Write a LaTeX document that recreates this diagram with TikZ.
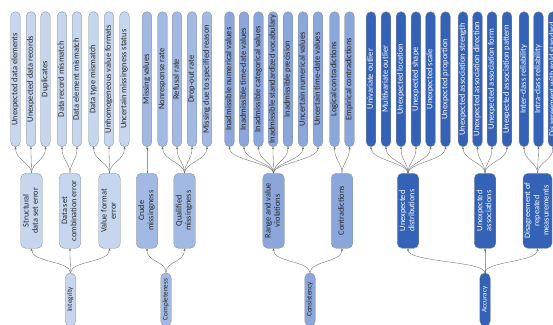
\documentclass[tikz,border=0pt]{standalone}
\usepackage{fontspec}
\usepackage{graphicx}
\setmainfont{Carlito}
\usetikzlibrary{arrows.meta}
\definecolor{gA}{HTML}{C6D6EF}
\definecolor{gB}{HTML}{A2B9E3}
\definecolor{gC}{HTML}{8AA6DA}
\definecolor{gD}{HTML}{3462B6}
\definecolor{edgecol}{HTML}{8E8E8E}
\definecolor{conncol}{HTML}{6A6A6A}
\newcommand{\rlab}[1]{\rotatebox{90}{\begin{tabular}{@{}c@{}}#1\end{tabular}}}
\begin{document}
\begin{tikzpicture}[x=1pt,y=1pt,
  leaf/.style={rounded corners=4.7pt, minimum height=135pt, minimum width=9.6pt, inner sep=0pt, draw=edgecol, line width=0.35pt, font=\fontsize{8.5}{9}\selectfont},
  midbox/.style={rounded corners=5pt, minimum height=75pt, minimum width=21.5pt, inner sep=0pt, draw=edgecol, line width=0.35pt, font=\fontsize{8.3}{9.2}\selectfont},
  rootbox/.style={rounded corners=5pt, minimum height=53pt, minimum width=10.5pt, inner sep=0pt, draw=edgecol, line width=0.35pt, font=\fontsize{7.2}{8}\selectfont},
  ga/.style={fill=gA, text=black!85},
  gb/.style={fill=gB, text=black!85},
  gc/.style={fill=gC, text=black!85},
  gd/.style={fill=gD, text=white},
  link/.style={draw=conncol, line width=0.35pt, -{Stealth[length=2.4pt,width=2.2pt]}},
]
\path[use as bounding box, clip] (0,0) rectangle (553,324);
\def\LY{244.8}
\def\MY{113.2}
\def\RY{24.5}

% ---------- Integrity ----------
\node[leaf,ga] (a1) at (15.5,\LY) {\rlab{Unexpected data elements}};
\node[leaf,ga] (a2) at (31,\LY) {\rlab{Unexpected data records}};
\node[leaf,ga] (a3) at (45.5,\LY) {\rlab{Duplicates}};
\node[leaf,ga] (a4) at (62,\LY) {\rlab{Data record mismatch}};
\node[leaf,ga] (a5) at (77,\LY) {\rlab{Data element mismatch}};
\node[leaf,ga] (a6) at (93.5,\LY) {\rlab{Data type mismatch}};
\node[leaf,ga] (a7) at (109,\LY) {\rlab{Unhomogeneous value formats}};
\node[leaf,ga] (a8) at (124.5,\LY) {\rlab{Uncertain missingness status}};
\node[midbox,ga] (am1) at (31.5,\MY) {\rlab{Structural\\data set error}};
\node[midbox,ga] (am2) at (70,\MY) {\rlab{Data set\\combination error}};
\node[midbox,ga] (am3) at (109.5,\MY) {\rlab{Value format\\error}};
\node[rootbox,ga] (ar) at (70.5,\RY) {\rlab{Integrity}};

% ---------- Completeness ----------
\node[leaf,gb] (b1) at (147,\LY) {\rlab{Missing values}};
\node[leaf,gb] (b2) at (162.5,\LY) {\rlab{Nonresponse rate}};
\node[leaf,gb] (b3) at (177,\LY) {\rlab{Refusal rate}};
\node[leaf,gb] (b4) at (192,\LY) {\rlab{Drop-out rate}};
\node[leaf,gb] (b5) at (207,\LY) {\rlab{Missing due to specified reason}};
\node[midbox,gb] (bm1) at (147,\MY) {\rlab{Crude\\missingness}};
\node[midbox,gb] (bm2) at (184.5,\MY) {\rlab{Qualified\\missingness}};
\node[rootbox,gb] (br) at (166,\RY) {\rlab{Completeness}};

% ---------- Consistency ----------
\node[leaf,gc] (c1) at (229.5,\LY) {\rlab{Inadmissible numerical values}};
\node[leaf,gc] (c2) at (244,\LY) {\rlab{Inadmissible time-date values}};
\node[leaf,gc] (c3) at (258.5,\LY) {\rlab{Inadmissible categorical values}};
\node[leaf,gc] (c4) at (273,\LY) {\rlab{Inadmissible standardized vocabulary}};
\node[leaf,gc] (c5) at (288,\LY) {\rlab{Inadmissible precision}};
\node[leaf,gc] (c6) at (303,\LY) {\rlab{Uncertain numerical values}};
\node[leaf,gc] (c7) at (318,\LY) {\rlab{Uncertain time-date values}};
\node[leaf,gc] (c8) at (334.5,\LY) {\rlab{Logical contradictions}};
\node[leaf,gc] (c9) at (349.5,\LY) {\rlab{Empirical contradictions}};
\node[midbox,gc] (cm1) at (273.5,\MY) {\rlab{Range and value\\violations}};
\node[midbox,gc] (cm2) at (342,\MY) {\rlab{Contradictions}};
\node[rootbox,gc] (cr) at (310,\RY) {\rlab{Consistency}};

% ---------- Accuracy ----------
\node[leaf,gd] (d1) at (371,\LY) {\rlab{Univariate outlier}};
\node[leaf,gd] (d2) at (386,\LY) {\rlab{Multivariate outlier}};
\node[leaf,gd] (d3) at (401,\LY) {\rlab{Unexpected location}};
\node[leaf,gd] (d4) at (416,\LY) {\rlab{Unexpected shape}};
\node[leaf,gd] (d5) at (430.5,\LY) {\rlab{Unexpected scale}};
\node[leaf,gd] (d6) at (445.5,\LY) {\rlab{Unexpected proportion}};
\node[leaf,gd] (d7) at (463,\LY) {\rlab{Unexpected association strength}};
\node[leaf,gd] (d8) at (477.5,\LY) {\rlab{Unexpected association direction}};
\node[leaf,gd] (d9) at (492,\LY) {\rlab{Unexpected association form}};
\node[leaf,gd] (d10) at (507,\LY) {\rlab{Unexpected association pattern}};
\node[leaf,gd] (d11) at (524,\LY) {\rlab{Inter-class reliability}};
\node[leaf,gd] (d12) at (538.5,\LY) {\rlab{Intra-class reliability}};
\node[leaf,gd] (d13) at (553,\LY) {\rlab{Disagreement with gold standard}};
\node[midbox,gd] (dm1) at (408,\MY) {\rlab{Unexpected\\distributions}};
\node[midbox,gd] (dm2) at (485,\MY) {\rlab{Unexpected\\associations}};
\node[midbox,gd,minimum width=29pt] (dm3) at (537.5,\MY) {\rlab{Disagreement of\\repeated\\measurements}};
\node[rootbox,gd] (dr) at (485,\RY) {\rlab{Accuracy}};

% ---------- connectors: mid -> leaves ----------
\foreach \m/\l in {am1/a1,am1/a2,am1/a3,am2/a4,am2/a5,am3/a6,am3/a7,am3/a8,
                   bm1/b1,bm2/b2,bm2/b3,bm2/b4,bm2/b5,
                   cm1/c1,cm1/c2,cm1/c3,cm1/c4,cm1/c5,cm1/c6,cm1/c7,cm2/c8,cm2/c9,
                   dm1/d1,dm1/d2,dm1/d3,dm1/d4,dm1/d5,dm1/d6,
                   dm2/d7,dm2/d8,dm2/d9,dm2/d10,dm3/d11,dm3/d12,dm3/d13}
  \draw[link] (\m.north) .. controls +(0,10) and +(0,-13) .. (\l.south);

% ---------- connectors: root -> mid ----------
\foreach \r/\m in {ar/am1,ar/am2,ar/am3,br/bm1,br/bm2,cr/cm1,cr/cm2,dr/dm1,dr/dm2,dr/dm3}
  \draw[link] (\r.north) .. controls +(0,12) and +(0,-14) .. (\m.south);
\end{tikzpicture}
\end{document}
